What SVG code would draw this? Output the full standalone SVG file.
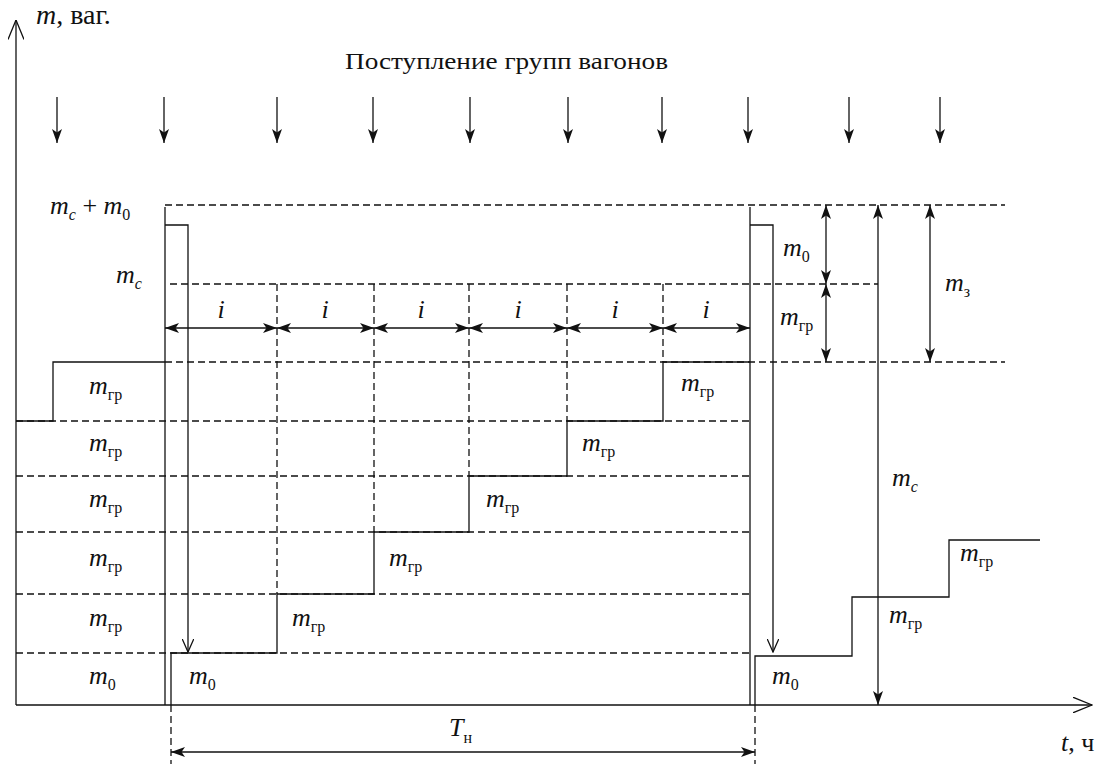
<svg xmlns="http://www.w3.org/2000/svg" width="1104" height="769" viewBox="0 0 1104 769">
<defs>
<style>
.ln{stroke:#111;stroke-width:1.3;fill:none}
.ds{stroke:#111;stroke-width:1.3;fill:none;stroke-dasharray:7 4}
.m{font-family:'Liberation Serif','Times New Roman',serif;font-style:italic;font-size:26px;fill:#111}
.s{font-style:normal;font-size:16px}
.si{font-style:italic;font-size:16px}
.t{font-family:'Liberation Serif','Times New Roman',serif;font-size:24px;fill:#111}
</style>
<marker id="af" viewBox="0 0 14 10" refX="14" refY="5" markerWidth="14" markerHeight="10" markerUnits="userSpaceOnUse" orient="auto-start-reverse">
<path d="M0,0 L14,5 L0,10 L3.5,5 z" fill="#111"/>
</marker>
<marker id="ao" viewBox="0 0 14 12" refX="13.5" refY="6" markerWidth="14" markerHeight="12" markerUnits="userSpaceOnUse" orient="auto">
<path d="M0,0 L13.5,6 L0,12" fill="none" stroke="#111" stroke-width="1.3"/>
</marker>
<marker id="ax" viewBox="0 0 20 16" refX="19.5" refY="8" markerWidth="20" markerHeight="16" markerUnits="userSpaceOnUse" orient="auto">
<path d="M0,0 L19.5,8 L0,16" fill="none" stroke="#111" stroke-width="1.3"/>
</marker>
</defs>
<rect width="1104" height="769" fill="#ffffff"/>

<g id="axes">
<line class="ln" x1="16" y1="705" x2="16" y2="20" marker-end="url(#ax)"/>
<line class="ln" x1="16" y1="705" x2="1092" y2="705" marker-end="url(#ax)"/>
</g>

<g id="grid">
<line class="ds" x1="165" y1="205" x2="1005" y2="205"/>
<line class="ds" x1="170" y1="284" x2="878" y2="284"/>
<line class="ds" x1="165" y1="362" x2="1005" y2="362"/>
<line class="ds" x1="16" y1="421" x2="750" y2="421"/>
<line class="ds" x1="16" y1="476" x2="750" y2="476"/>
<line class="ds" x1="16" y1="532" x2="750" y2="532"/>
<line class="ds" x1="16" y1="594" x2="750" y2="594"/>
<line class="ds" x1="16" y1="653" x2="750" y2="653"/>
<line class="ds" x1="277" y1="284" x2="277" y2="594"/>
<line class="ds" x1="374" y1="284" x2="374" y2="532"/>
<line class="ds" x1="469" y1="284" x2="469" y2="476"/>
<line class="ds" x1="567" y1="284" x2="567" y2="421"/>
<line class="ds" x1="663" y1="284" x2="663" y2="362"/>
<line class="ds" x1="171" y1="705" x2="171" y2="764"/>
<line class="ds" x1="755" y1="705" x2="755" y2="764"/>
</g>

<g id="process">
<path class="ln" d="M16,421 H53 V362 H165"/>
<line class="ln" x1="165" y1="207" x2="165" y2="705"/>
<path class="ln" d="M165,225 H188 V652" marker-end="url(#ao)"/>
<path class="ln" d="M171,705 V653 H277 V594 H374 V532 H469 V476 H567 V421 H663 V362 H750"/>
<line class="ln" x1="750" y1="207" x2="750" y2="705"/>
<path class="ln" d="M750,225 H773 V652" marker-end="url(#ao)"/>
<path class="ln" d="M755,705 V656 H852 V597 H949 V540 H1040"/>
</g>

<g id="arrivals">
<line class="ln" x1="57" y1="97" x2="57" y2="143" marker-end="url(#af)"/>
<line class="ln" x1="164" y1="97" x2="164" y2="143" marker-end="url(#af)"/>
<line class="ln" x1="277" y1="97" x2="277" y2="143" marker-end="url(#af)"/>
<line class="ln" x1="373" y1="97" x2="373" y2="143" marker-end="url(#af)"/>
<line class="ln" x1="470" y1="97" x2="470" y2="143" marker-end="url(#af)"/>
<line class="ln" x1="568" y1="97" x2="568" y2="143" marker-end="url(#af)"/>
<line class="ln" x1="662" y1="97" x2="662" y2="143" marker-end="url(#af)"/>
<line class="ln" x1="748" y1="97" x2="748" y2="143" marker-end="url(#af)"/>
<line class="ln" x1="849" y1="97" x2="849" y2="143" marker-end="url(#af)"/>
<line class="ln" x1="940" y1="97" x2="940" y2="143" marker-end="url(#af)"/>
</g>

<g id="dimensions">
<line class="ln" x1="165" y1="328" x2="277" y2="328" marker-start="url(#af)" marker-end="url(#af)"/>
<line class="ln" x1="277" y1="328" x2="374" y2="328" marker-start="url(#af)" marker-end="url(#af)"/>
<line class="ln" x1="374" y1="328" x2="469" y2="328" marker-start="url(#af)" marker-end="url(#af)"/>
<line class="ln" x1="469" y1="328" x2="567" y2="328" marker-start="url(#af)" marker-end="url(#af)"/>
<line class="ln" x1="567" y1="328" x2="663" y2="328" marker-start="url(#af)" marker-end="url(#af)"/>
<line class="ln" x1="663" y1="328" x2="750" y2="328" marker-start="url(#af)" marker-end="url(#af)"/>
<line class="ln" x1="826" y1="205" x2="826" y2="284" marker-start="url(#af)" marker-end="url(#af)"/>
<line class="ln" x1="826" y1="284" x2="826" y2="362" marker-start="url(#af)" marker-end="url(#af)"/>
<line class="ln" x1="878" y1="205" x2="878" y2="705" marker-start="url(#af)" marker-end="url(#af)"/>
<line class="ln" x1="930" y1="205" x2="930" y2="362" marker-start="url(#af)" marker-end="url(#af)"/>
<line class="ln" x1="171" y1="752" x2="755" y2="752" marker-start="url(#af)" marker-end="url(#af)"/>
</g>

<g id="labels">
<text class="m" x="36" y="24" style="font-size:28px">m<tspan font-style="normal">, ваг.</tspan></text>
<text class="t" x="345" y="69" textLength="323" lengthAdjust="spacingAndGlyphs">Поступление групп вагонов</text>
<text class="m" x="50" y="214">m<tspan class="si" dy="6">c</tspan><tspan font-style="normal" dy="-6"> + </tspan>m<tspan class="s" dy="6">0</tspan></text>
<text class="m" x="116" y="283">m<tspan class="si" dy="6">c</tspan></text>
<text class="m" x="221" y="318" text-anchor="middle">i</text>
<text class="m" x="325" y="318" text-anchor="middle">i</text>
<text class="m" x="421" y="318" text-anchor="middle">i</text>
<text class="m" x="518" y="318" text-anchor="middle">i</text>
<text class="m" x="615" y="318" text-anchor="middle">i</text>
<text class="m" x="706" y="318" text-anchor="middle">i</text>
<text class="m" x="89" y="394">m<tspan class="s" dy="6">гр</tspan></text>
<text class="m" x="89" y="451">m<tspan class="s" dy="6">гр</tspan></text>
<text class="m" x="89" y="507">m<tspan class="s" dy="6">гр</tspan></text>
<text class="m" x="89" y="566">m<tspan class="s" dy="6">гр</tspan></text>
<text class="m" x="89" y="626">m<tspan class="s" dy="6">гр</tspan></text>
<text class="m" x="89" y="684">m<tspan class="s" dy="6">0</tspan></text>
<text class="m" x="189" y="684">m<tspan class="s" dy="6">0</tspan></text>
<text class="m" x="292" y="626">m<tspan class="s" dy="6">гр</tspan></text>
<text class="m" x="389" y="566">m<tspan class="s" dy="6">гр</tspan></text>
<text class="m" x="486" y="507">m<tspan class="s" dy="6">гр</tspan></text>
<text class="m" x="582" y="451">m<tspan class="s" dy="6">гр</tspan></text>
<text class="m" x="681" y="391">m<tspan class="s" dy="6">гр</tspan></text>
<text class="m" x="783" y="256">m<tspan class="s" dy="6">0</tspan></text>
<text class="m" x="780" y="325">m<tspan class="s" dy="6">гр</tspan></text>
<text class="m" x="945" y="291">m<tspan class="s" dy="6">з</tspan></text>
<text class="m" x="892" y="486">m<tspan class="si" dy="6">c</tspan></text>
<text class="m" x="772" y="684">m<tspan class="s" dy="6">0</tspan></text>
<text class="m" x="889" y="623">m<tspan class="s" dy="6">гр</tspan></text>
<text class="m" x="960" y="561">m<tspan class="s" dy="6">гр</tspan></text>
<text class="m" x="449" y="736">T<tspan class="s" dy="7">н</tspan></text>
<text class="m" x="1061" y="751">t<tspan font-style="normal">, ч</tspan></text>
</g>
</svg>
